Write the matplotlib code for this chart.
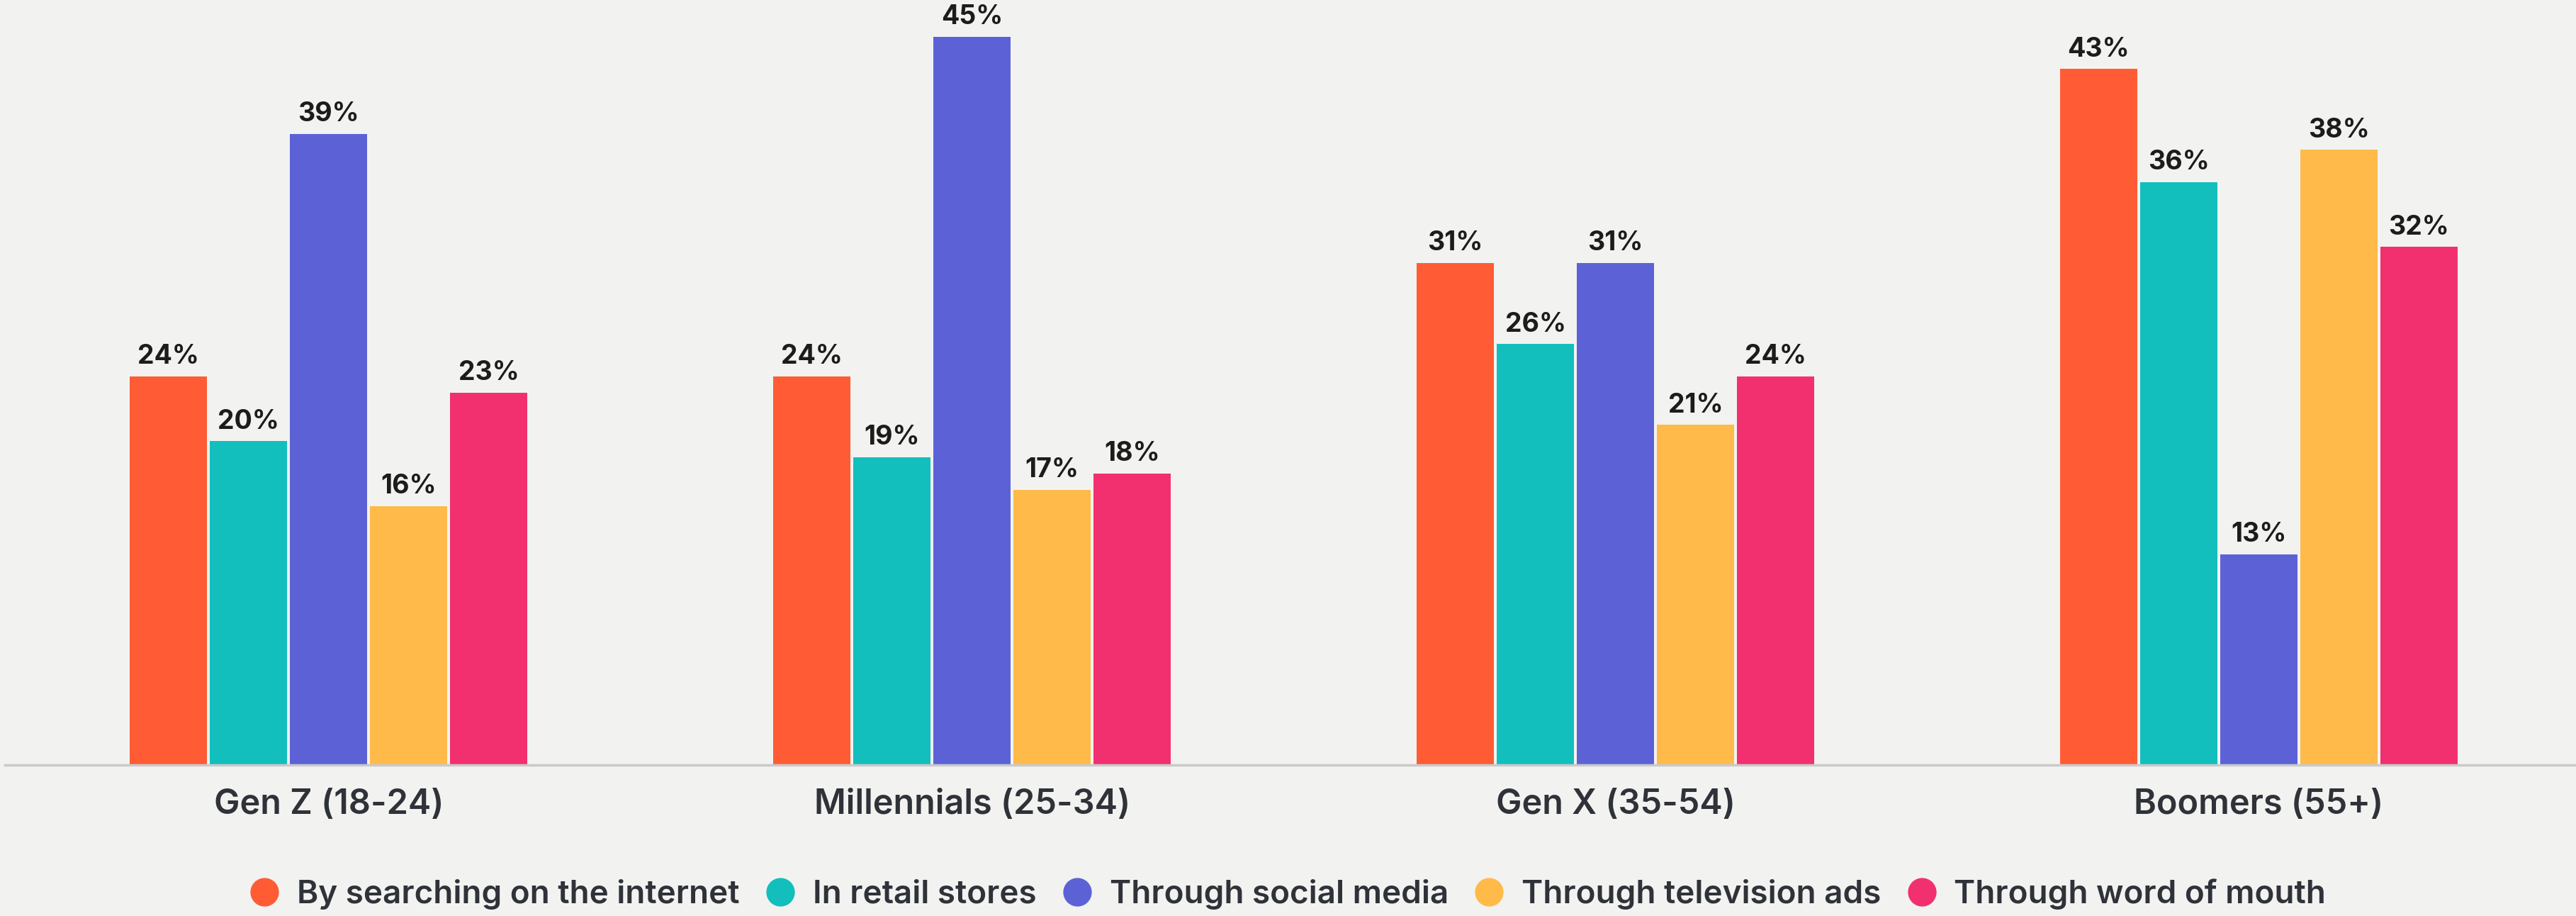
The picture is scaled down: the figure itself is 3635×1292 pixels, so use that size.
import matplotlib
matplotlib.use("Agg")
import matplotlib.pyplot as plt
from matplotlib.lines import Line2D
import numpy as np

categories = ["Gen Z (18-24)", "Millennials (25-34)", "Gen X (35-54)", "Boomers (55+)"]
series_names = ["By searching on the internet", "In retail stores", "Through social media",
                "Through television ads", "Through word of mouth"]
internet = [24, 24, 31, 43]
retail = [20, 19, 26, 36]
social = [39, 45, 31, 13]
television = [16, 17, 21, 38]
word_of_mouth = [23, 18, 24, 32]
series_values = [internet, retail, social, television, word_of_mouth]
colors = ["#FF5C35", "#12BFBC", "#5C62D6", "#FFBA4A", "#F2306F"]

bg = "#F2F3F1"
plt.rcParams['font.family'] = ['Inter', 'DejaVu Sans']

fig = plt.figure(figsize=(36.35, 12.92), dpi=100, facecolor=bg)
ax = fig.add_axes([0.002, 0.165, 0.998, 0.835], facecolor=bg)

x = np.arange(len(categories))
width = 0.12
step = 0.1245
for i, (vals, col) in enumerate(zip(series_values, colors)):
    offs = (i - 2) * step
    bars = ax.bar(x + offs, vals, width, color=col, zorder=2)
    ax.bar_label(bars, labels=[f"{v}%" for v in vals], padding=7,
                 fontsize=27, fontweight='bold', color="#1c1c1c")

ax.set_xlim(-0.503, 3.493)
ax.set_ylim(0, 47.26)
ax.set_yticks([])
ax.set_xticks(x)
ax.set_xticklabels(categories, fontsize=35, fontweight='semibold', color="#2f3238")
ax.tick_params(axis='x', length=0, pad=24)
for s in ["top", "right", "left"]:
    ax.spines[s].set_visible(False)
ax.spines["bottom"].set_color("#C9CACA")
ax.spines["bottom"].set_linewidth(2.5)
ax.spines["bottom"].set_zorder(3)

handles = [Line2D([0], [0], marker='o', linestyle='none', markersize=28,
                  markerfacecolor=c, markeredgecolor=c) for c in colors]
leg = fig.legend(handles, series_names, loc='center', bbox_to_anchor=(0.5, 0.024),
                 ncol=5, frameon=False, handlelength=0.9,
                 handletextpad=0.55, columnspacing=0.8,
                 prop={'weight': 'semibold', 'size': 33})
for t in leg.get_texts():
    t.set_color("#2f3238")

fig.savefig("out.png", dpi=100, facecolor=bg)
